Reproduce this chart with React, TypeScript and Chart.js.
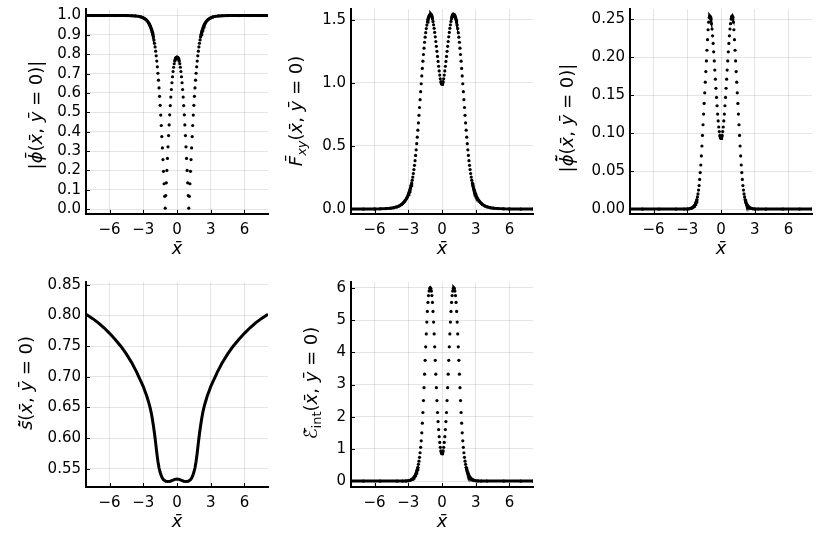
import { useEffect, useRef } from "react";
import { Chart, registerables } from "chart.js";
Chart.register(...registerables);

type Pt = [number, number];
type Run = { t: string; it?: boolean; sub?: boolean };

// shared x axis
const xTicks = [-6, -3, 0, 3, 6];
const xTickLabels = ["−6", "−3", "0", "3", "6"];

// |phi bar|
const phiBarTicks = [0, 0.1, 0.2, 0.3, 0.4, 0.5, 0.6, 0.7, 0.8, 0.9, 1.0];
const phiBarTickLabels = ["0.0", "0.1", "0.2", "0.3", "0.4", "0.5", "0.6", "0.7", "0.8", "0.9", "1.0"];
const phiBar: Pt[] = [
  [-8.1, 1], [-7.5, 1], [-6.5, 1], [-5.5, 1], [-4.5, 1], [-4, 0.999], [-3.7, 0.998], [-3.4, 0.996], [-3.2, 0.993], [-3, 0.988],
  [-2.9, 0.985], [-2.8, 0.981], [-2.7, 0.976], [-2.6, 0.969], [-2.5, 0.96], [-2.45, 0.954], [-2.4, 0.948], [-2.35, 0.941], [-2.3, 0.933],
  [-2.25, 0.924], [-2.2, 0.914], [-2.15, 0.902], [-2.1, 0.889], [-2.05, 0.874], [-2, 0.857], [-1.95, 0.838], [-1.9, 0.816], [-1.85, 0.792],
  [-1.8, 0.765], [-1.75, 0.735], [-1.7, 0.702], [-1.65, 0.666], [-1.6, 0.626], [-1.55, 0.583], [-1.5, 0.536], [-1.45, 0.486], [-1.4, 0.432],
  [-1.35, 0.375], [-1.3, 0.316], [-1.25, 0.256], [-1.2, 0.195], [-1.15, 0.131], [-1.1, 0.066], [-1.05, 0.005], [-1, 0.07], [-0.95, 0.136],
  [-0.9, 0.2], [-0.85, 0.262], [-0.8, 0.322], [-0.75, 0.38], [-0.7, 0.435], [-0.65, 0.487], [-0.6, 0.535], [-0.55, 0.579], [-0.5, 0.618],
  [-0.45, 0.653], [-0.4, 0.684], [-0.35, 0.711], [-0.3, 0.733], [-0.25, 0.751], [-0.2, 0.765], [-0.15, 0.775], [-0.1, 0.781], [-0.05, 0.784],
  [0, 0.785], [0.05, 0.784], [0.1, 0.781], [0.15, 0.775], [0.2, 0.765], [0.25, 0.751], [0.3, 0.733], [0.35, 0.711], [0.4, 0.684],
  [0.45, 0.653], [0.5, 0.618], [0.55, 0.579], [0.6, 0.535], [0.65, 0.487], [0.7, 0.435], [0.75, 0.38], [0.8, 0.322], [0.85, 0.262],
  [0.9, 0.2], [0.95, 0.136], [1, 0.07], [1.05, 0.005], [1.1, 0.066], [1.15, 0.131], [1.2, 0.195], [1.25, 0.256], [1.3, 0.316],
  [1.35, 0.375], [1.4, 0.432], [1.45, 0.486], [1.5, 0.536], [1.55, 0.583], [1.6, 0.626], [1.65, 0.666], [1.7, 0.702], [1.75, 0.735],
  [1.8, 0.765], [1.85, 0.792], [1.9, 0.816], [1.95, 0.838], [2, 0.857], [2.05, 0.874], [2.1, 0.889], [2.15, 0.902], [2.2, 0.914],
  [2.25, 0.924], [2.3, 0.933], [2.35, 0.941], [2.4, 0.948], [2.45, 0.954], [2.5, 0.96], [2.6, 0.969], [2.7, 0.976], [2.8, 0.981],
  [2.9, 0.985], [3, 0.988], [3.2, 0.993], [3.4, 0.996], [3.7, 0.998], [4, 0.999], [4.5, 1], [5.5, 1], [6.5, 1], [7.5, 1], [8.1, 1],
];

// F_xy
const fxyTicks = [0, 0.5, 1.0, 1.5];
const fxyTickLabels = ["0.0", "0.5", "1.0", "1.5"];
const fxy: Pt[] = [
  [-8.1, 0], [-7, 0], [-6, 0.001], [-5.5, 0.002], [-5, 0.004], [-4.6, 0.007], [-4.3, 0.011], [-4, 0.018], [-3.8, 0.026], [-3.6, 0.037],
  [-3.5, 0.045], [-3.4, 0.054], [-3.3, 0.065], [-3.2, 0.078], [-3.1, 0.094], [-3, 0.114], [-2.95, 0.126], [-2.9, 0.139], [-2.85, 0.153],
  [-2.8, 0.169], [-2.75, 0.187], [-2.7, 0.207], [-2.65, 0.229], [-2.6, 0.254], [-2.55, 0.282], [-2.5, 0.313], [-2.45, 0.347], [-2.4, 0.384],
  [-2.35, 0.425], [-2.3, 0.47], [-2.25, 0.518], [-2.2, 0.57], [-2.15, 0.625], [-2.1, 0.683], [-2.05, 0.743], [-2, 0.805], [-1.95, 0.867],
  [-1.9, 0.93], [-1.85, 0.993], [-1.8, 1.055], [-1.75, 1.115], [-1.7, 1.172], [-1.65, 1.225], [-1.6, 1.275], [-1.55, 1.322], [-1.5, 1.362],
  [-1.45, 1.398], [-1.4, 1.43], [-1.35, 1.458], [-1.3, 1.482], [-1.25, 1.502], [-1.2, 1.518], [-1.15, 1.53], [-1.1, 1.539], [-1.05, 1.544],
  [-1, 1.545], [-0.95, 1.539], [-0.9, 1.527], [-0.85, 1.509], [-0.8, 1.487], [-0.75, 1.46], [-0.7, 1.432], [-0.65, 1.4], [-0.6, 1.365],
  [-0.55, 1.328], [-0.5, 1.29], [-0.45, 1.25], [-0.4, 1.21], [-0.35, 1.17], [-0.3, 1.132], [-0.25, 1.095], [-0.2, 1.062], [-0.15, 1.033],
  [-0.1, 1.01], [-0.05, 0.995], [0, 0.99], [0.05, 0.995], [0.1, 1.01], [0.15, 1.033], [0.2, 1.062], [0.25, 1.095], [0.3, 1.132],
  [0.35, 1.17], [0.4, 1.21], [0.45, 1.25], [0.5, 1.29], [0.55, 1.328], [0.6, 1.365], [0.65, 1.4], [0.7, 1.432], [0.75, 1.46],
  [0.8, 1.487], [0.85, 1.509], [0.9, 1.527], [0.95, 1.539], [1, 1.545], [1.05, 1.544], [1.1, 1.539], [1.15, 1.53], [1.2, 1.518],
  [1.25, 1.502], [1.3, 1.482], [1.35, 1.458], [1.4, 1.43], [1.45, 1.398], [1.5, 1.362], [1.55, 1.322], [1.6, 1.275], [1.65, 1.225],
  [1.7, 1.172], [1.75, 1.115], [1.8, 1.055], [1.85, 0.993], [1.9, 0.93], [1.95, 0.867], [2, 0.805], [2.05, 0.743], [2.1, 0.683],
  [2.15, 0.625], [2.2, 0.57], [2.25, 0.518], [2.3, 0.47], [2.35, 0.425], [2.4, 0.384], [2.45, 0.347], [2.5, 0.313], [2.55, 0.282],
  [2.6, 0.254], [2.65, 0.229], [2.7, 0.207], [2.75, 0.187], [2.8, 0.169], [2.85, 0.153], [2.9, 0.139], [2.95, 0.126], [3, 0.114],
  [3.1, 0.094], [3.2, 0.078], [3.3, 0.065], [3.4, 0.054], [3.5, 0.045], [3.6, 0.037], [3.8, 0.026], [4, 0.018], [4.3, 0.011],
  [4.6, 0.007], [5, 0.004], [5.5, 0.002], [6, 0.001], [7, 0], [8.1, 0],
];

// |phi tilde bar|
const phiTilTicks = [0, 0.05, 0.1, 0.15, 0.2, 0.25];
const phiTilTickLabels = ["0.00", "0.05", "0.10", "0.15", "0.20", "0.25"];
const phiTil: Pt[] = [
  [-8.1, 0], [-7, 0], [-5.5, 0], [-4, 0], [-3.3, 0.0001], [-3, 0.0002], [-2.8, 0.0005], [-2.7, 0.0009], [-2.6, 0.0014], [-2.5, 0.0023],
  [-2.45, 0.0029], [-2.4, 0.0037], [-2.35, 0.0047], [-2.3, 0.006], [-2.25, 0.0077], [-2.2, 0.0098], [-2.15, 0.0125], [-2.1, 0.016],
  [-2.05, 0.02], [-2, 0.025], [-1.95, 0.031], [-1.9, 0.039], [-1.85, 0.048], [-1.8, 0.058], [-1.75, 0.07], [-1.7, 0.083], [-1.65, 0.097],
  [-1.6, 0.111], [-1.55, 0.125], [-1.5, 0.139], [-1.45, 0.153], [-1.4, 0.167], [-1.35, 0.181], [-1.3, 0.195], [-1.25, 0.209], [-1.2, 0.223],
  [-1.15, 0.236], [-1.1, 0.246], [-1.05, 0.252], [-1, 0.254], [-0.95, 0.253], [-0.9, 0.25], [-0.85, 0.244], [-0.8, 0.237], [-0.75, 0.228],
  [-0.7, 0.218], [-0.65, 0.207], [-0.6, 0.195], [-0.55, 0.183], [-0.5, 0.171], [-0.45, 0.159], [-0.4, 0.147], [-0.35, 0.136], [-0.3, 0.125],
  [-0.25, 0.116], [-0.2, 0.108], [-0.15, 0.102], [-0.1, 0.097], [-0.05, 0.094], [0, 0.093], [0.05, 0.094], [0.1, 0.097], [0.15, 0.102],
  [0.2, 0.108], [0.25, 0.116], [0.3, 0.125], [0.35, 0.136], [0.4, 0.147], [0.45, 0.159], [0.5, 0.171], [0.55, 0.183], [0.6, 0.195],
  [0.65, 0.207], [0.7, 0.218], [0.75, 0.228], [0.8, 0.237], [0.85, 0.244], [0.9, 0.25], [0.95, 0.253], [1, 0.254], [1.05, 0.252],
  [1.1, 0.246], [1.15, 0.236], [1.2, 0.223], [1.25, 0.209], [1.3, 0.195], [1.35, 0.181], [1.4, 0.167], [1.45, 0.153], [1.5, 0.139],
  [1.55, 0.125], [1.6, 0.111], [1.65, 0.097], [1.7, 0.083], [1.75, 0.07], [1.8, 0.058], [1.85, 0.048], [1.9, 0.039], [1.95, 0.031],
  [2, 0.025], [2.05, 0.02], [2.1, 0.016], [2.15, 0.0125], [2.2, 0.0098], [2.25, 0.0077], [2.3, 0.006], [2.35, 0.0047], [2.4, 0.0037],
  [2.45, 0.0029], [2.5, 0.0023], [2.6, 0.0014], [2.7, 0.0009], [2.8, 0.0005], [3, 0.0002], [3.3, 0.0001], [4, 0], [5.5, 0], [7, 0], [8.1, 0],
];

// s tilde bar
const sTilTicks = [0.55, 0.6, 0.65, 0.7, 0.75, 0.8, 0.85];
const sTilTickLabels = ["0.55", "0.60", "0.65", "0.70", "0.75", "0.80", "0.85"];
const sTil: Pt[] = [
  [-8.1, 0.802], [-7.5, 0.795], [-7, 0.788], [-6.5, 0.78], [-6, 0.771], [-5.5, 0.761], [-5, 0.75], [-4.5, 0.737], [-4, 0.722],
  [-3.8, 0.715], [-3.6, 0.708], [-3.4, 0.7], [-3.2, 0.692], [-3, 0.684], [-2.9, 0.679], [-2.8, 0.674], [-2.7, 0.669], [-2.6, 0.663],
  [-2.5, 0.657], [-2.4, 0.65], [-2.3, 0.642], [-2.2, 0.632], [-2.1, 0.62], [-2, 0.607], [-1.9, 0.592], [-1.8, 0.576], [-1.7, 0.562],
  [-1.6, 0.551], [-1.5, 0.544], [-1.4, 0.5385], [-1.3, 0.5345], [-1.2, 0.532], [-1.1, 0.5305], [-1, 0.5295], [-0.8, 0.529],
  [-0.6, 0.5295], [-0.4, 0.531], [-0.2, 0.5325], [0, 0.533], [0.2, 0.5325], [0.4, 0.531], [0.6, 0.5295], [0.8, 0.529], [1, 0.5295],
  [1.1, 0.5305], [1.2, 0.532], [1.3, 0.5345], [1.4, 0.5385], [1.5, 0.544], [1.6, 0.551], [1.7, 0.562], [1.8, 0.576], [1.9, 0.592],
  [2, 0.607], [2.1, 0.62], [2.2, 0.632], [2.3, 0.642], [2.4, 0.65], [2.5, 0.657], [2.6, 0.663], [2.7, 0.669], [2.8, 0.674],
  [2.9, 0.679], [3, 0.684], [3.2, 0.692], [3.4, 0.7], [3.6, 0.708], [3.8, 0.715], [4, 0.722], [4.5, 0.737], [5, 0.75],
  [5.5, 0.761], [6, 0.771], [6.5, 0.78], [7, 0.788], [7.5, 0.795], [8.1, 0.802],
];

// E_int
const eIntTicks = [0, 1, 2, 3, 4, 5, 6];
const eIntTickLabels = ["0", "1", "2", "3", "4", "5", "6"];
const eInt: Pt[] = [
  [-8.1, 0], [-7, 0], [-5.5, 0], [-4, 0], [-3.5, 0.0015], [-3.2, 0.005], [-3, 0.013], [-2.9, 0.02], [-2.8, 0.031], [-2.7, 0.048],
  [-2.65, 0.06], [-2.6, 0.073], [-2.55, 0.09], [-2.5, 0.11], [-2.45, 0.135], [-2.4, 0.165], [-2.35, 0.2], [-2.3, 0.245], [-2.25, 0.3],
  [-2.2, 0.36], [-2.15, 0.43], [-2.1, 0.52], [-2.05, 0.62], [-2, 0.74], [-1.95, 0.88], [-1.9, 1.05], [-1.85, 1.25], [-1.8, 1.5],
  [-1.75, 1.8], [-1.7, 2.13], [-1.65, 2.5], [-1.6, 2.9], [-1.55, 3.32], [-1.5, 3.75], [-1.45, 4.17], [-1.4, 4.57], [-1.35, 4.94],
  [-1.3, 5.27], [-1.25, 5.55], [-1.2, 5.76], [-1.15, 5.9], [-1.1, 5.98], [-1.05, 6], [-1, 5.98], [-0.95, 5.9], [-0.9, 5.76],
  [-0.85, 5.55], [-0.8, 5.27], [-0.75, 4.94], [-0.7, 4.57], [-0.65, 4.17], [-0.6, 3.75], [-0.55, 3.32], [-0.5, 2.9], [-0.45, 2.5],
  [-0.4, 2.13], [-0.35, 1.85], [-0.3, 1.6], [-0.25, 1.38], [-0.2, 1.2], [-0.15, 1.05], [-0.1, 0.94], [-0.05, 0.87], [0, 0.85],
  [0.05, 0.87], [0.1, 0.94], [0.15, 1.05], [0.2, 1.2], [0.25, 1.38], [0.3, 1.6], [0.35, 1.85], [0.4, 2.13], [0.45, 2.5], [0.5, 2.9],
  [0.55, 3.32], [0.6, 3.75], [0.65, 4.17], [0.7, 4.57], [0.75, 4.94], [0.8, 5.27], [0.85, 5.55], [0.9, 5.76], [0.95, 5.9], [1, 5.98],
  [1.05, 6], [1.1, 5.98], [1.15, 5.9], [1.2, 5.76], [1.25, 5.55], [1.3, 5.27], [1.35, 4.94], [1.4, 4.57], [1.45, 4.17], [1.5, 3.75],
  [1.55, 3.32], [1.6, 2.9], [1.65, 2.5], [1.7, 2.13], [1.75, 1.8], [1.8, 1.5], [1.85, 1.25], [1.9, 1.05], [1.95, 0.88], [2, 0.74],
  [2.05, 0.62], [2.1, 0.52], [2.15, 0.43], [2.2, 0.36], [2.25, 0.3], [2.3, 0.245], [2.35, 0.2], [2.4, 0.165], [2.45, 0.135], [2.5, 0.11],
  [2.55, 0.09], [2.6, 0.073], [2.65, 0.06], [2.7, 0.048], [2.8, 0.031], [2.9, 0.02], [3, 0.013], [3.2, 0.005], [3.5, 0.0015], [4, 0],
  [5.5, 0], [7, 0], [8.1, 0],
];

const PAD_L = 90;
const PAD_T = 10;
const PAD_R = 4;
const PAD_B = 60;
const TICK_FONT = { family: "DejaVu Sans", size: 15 };
const LABEL_SIZE = 18;
const LABEL_FAMILY = "'DejaVu Sans'";

type PanelProps = {
  data: Pt[];
  ticks: number[];
  tickLabels: string[];
  yMin: number;
  yMax: number;
  left: number;
  top: number;
  width: number;
  height: number;
  label: Run[];
  labelX: number;
  labelY: number;
  dotted: boolean;
};

function runFont(r: Run) {
  return `${r.it ? "italic " : ""}${r.sub ? LABEL_SIZE * 0.72 : LABEL_SIZE}px ${LABEL_FAMILY}`;
}

function Panel(p: PanelProps) {
  const canvasRef = useRef<HTMLCanvasElement>(null);
  const boxLeft = p.left - PAD_L;
  const boxTop = p.top - PAD_T;

  useEffect(() => {
    if (!canvasRef.current) return;
    const ctx = canvasRef.current.getContext("2d");
    if (!ctx) return;

    // inward tick marks + axis labels (GR style)
    const decor = {
      id: "decor",
      afterDraw(chart: Chart) {
        const c = chart.ctx;
        const a = chart.chartArea;
        const sx = chart.scales.x;
        const sy = chart.scales.y;
        c.save();
        c.strokeStyle = "#000";
        c.lineWidth = 1;
        c.beginPath();
        for (const v of xTicks) {
          const px = Math.round(sx.getPixelForValue(v)) + 0.5;
          c.moveTo(px, a.bottom);
          c.lineTo(px, a.bottom - 4);
        }
        for (const v of p.ticks) {
          const py = Math.round(sy.getPixelForValue(v)) + 0.5;
          c.moveTo(a.left, py);
          c.lineTo(a.left + 4, py);
        }
        c.stroke();

        c.fillStyle = "#000";
        c.textBaseline = "middle";
        c.textAlign = "center";
        c.font = `italic ${LABEL_SIZE}px ${LABEL_FAMILY}`;
        c.fillText("x\u0304", (a.left + a.right) / 2, a.bottom + 35);

        c.translate(p.labelX - boxLeft, p.labelY - boxTop);
        c.rotate(-Math.PI / 2);
        c.textAlign = "left";
        let total = 0;
        for (const r of p.label) {
          c.font = runFont(r);
          total += c.measureText(r.t).width;
        }
        let x = -total / 2;
        for (const r of p.label) {
          c.font = runFont(r);
          c.fillText(r.t, x, r.sub ? LABEL_SIZE * 0.3 : 0);
          x += c.measureText(r.t).width;
        }
        c.restore();
      },
    };

    const chart = new Chart(ctx, {
      type: "scatter",
      data: {
        datasets: [
          {
            data: p.data.map(([x, y]) => ({ x, y })),
            showLine: true,
            borderColor: "#000",
            borderWidth: 3,
            pointRadius: p.dotted ? 1.6 : 0,
            pointBackgroundColor: "#000",
            pointBorderWidth: 0,
            pointHoverRadius: 0,
            segment: {
              // steep stretches show separate dots, flat ones merge into a line
              borderColor: (s: any) =>
                !p.dotted || Math.abs(s.p1.y - s.p0.y) <= 4.5 * Math.abs(s.p1.x - s.p0.x) ? "#000" : "rgba(0,0,0,0)",
            },
          },
        ],
      },
      options: {
        animation: false,
        responsive: true,
        maintainAspectRatio: false,
        events: [],
        layout: { padding: { left: 0, top: PAD_T, right: PAD_R, bottom: 0 } },
        plugins: { legend: { display: false }, tooltip: { enabled: false } },
        scales: {
          x: {
            type: "linear",
            min: -8.1,
            max: 8.1,
            afterBuildTicks: (s: any) => {
              s.ticks = xTicks.map((v) => ({ value: v }));
            },
            afterFit: (s: any) => {
              s.height = PAD_B;
            },
            ticks: {
              callback: (_v: any, i: number) => xTickLabels[i],
              font: TICK_FONT,
              color: "#000",
              padding: 7,
              maxRotation: 0,
              autoSkip: false,
            },
            grid: { color: "rgba(0,0,0,0.1)", lineWidth: 1, drawTicks: false },
            border: { color: "#000", width: 2 },
          },
          y: {
            type: "linear",
            min: p.yMin,
            max: p.yMax,
            afterBuildTicks: (s: any) => {
              s.ticks = p.ticks.map((v) => ({ value: v }));
            },
            afterFit: (s: any) => {
              s.width = PAD_L;
            },
            ticks: {
              callback: (_v: any, i: number) => p.tickLabels[i],
              font: TICK_FONT,
              color: "#000",
              padding: 5,
              autoSkip: false,
            },
            grid: { color: "rgba(0,0,0,0.1)", lineWidth: 1, drawTicks: false },
            border: { color: "#000", width: 2 },
          },
        },
      },
      plugins: [decor],
    });

    return () => chart.destroy();
  }, []);

  return (
    <div
      style={{
        position: "absolute",
        left: boxLeft,
        top: boxTop,
        width: p.width + PAD_L + PAD_R,
        height: p.height + PAD_T + PAD_B,
      }}
    >
      <canvas ref={canvasRef} />
    </div>
  );
}

const xbar = { t: "x\u0304", it: true };
const ybar = { t: "y\u0304", it: true };

export default function App() {
  return (
    <div style={{ position: "absolute", left: 0, top: 0, width: 817, height: 545, background: "#fff", overflow: "hidden" }}>
      <Panel
        data={phiBar}
        ticks={phiBarTicks}
        tickLabels={phiBarTickLabels}
        yMin={-0.0253}
        yMax={1.034}
        left={86}
        top={5}
        width={182}
        height={209}
        label={[{ t: "|" }, { t: "\u03d5\u0304", it: true }, { t: "(" }, xbar, { t: ", " }, ybar, { t: " = 0)|" }]}
        labelX={37}
        labelY={115}
        dotted
      />
      <Panel
        data={fxy}
        ticks={fxyTicks}
        tickLabels={fxyTickLabels}
        yMin={-0.0389}
        yMax={1.5855}
        left={351}
        top={5}
        width={182}
        height={209}
        label={[{ t: "F\u0304", it: true }, { t: "xy", it: true, sub: true }, { t: "(" }, xbar, { t: ", " }, ybar, { t: " = 0)" }]}
        labelX={297}
        labelY={111}
        dotted
      />
      <Panel
        data={phiTil}
        ticks={phiTilTicks}
        tickLabels={phiTilTickLabels}
        yMin={-0.00645}
        yMax={0.2633}
        left={630}
        top={5}
        width={182}
        height={209}
        label={[{ t: "|" }, { t: "\u03d5\u0304\u0303", it: true }, { t: "(" }, xbar, { t: ", " }, ybar, { t: " = 0)|" }]}
        labelX={568}
        labelY={118}
        dotted
      />
      <Panel
        data={sTil}
        ticks={sTilTicks}
        tickLabels={sTilTickLabels}
        yMin={0.52}
        yMax={0.8548}
        left={86}
        top={278}
        width={182}
        height={209}
        label={[{ t: "s\u0304\u0303", it: true }, { t: "(" }, xbar, { t: ", " }, ybar, { t: " = 0)" }]}
        labelX={27}
        labelY={383}
        dotted={false}
      />
      <Panel
        data={eInt}
        ticks={eIntTicks}
        tickLabels={eIntTickLabels}
        yMin={-0.183}
        yMax={6.183}
        left={351}
        top={278}
        width={182}
        height={209}
        label={[{ t: "\u2130\u0304", it: true }, { t: "int", sub: true }, { t: "(" }, xbar, { t: ", " }, ybar, { t: " = 0)" }]}
        labelX={312}
        labelY={383}
        dotted
      />
    </div>
  );
}
